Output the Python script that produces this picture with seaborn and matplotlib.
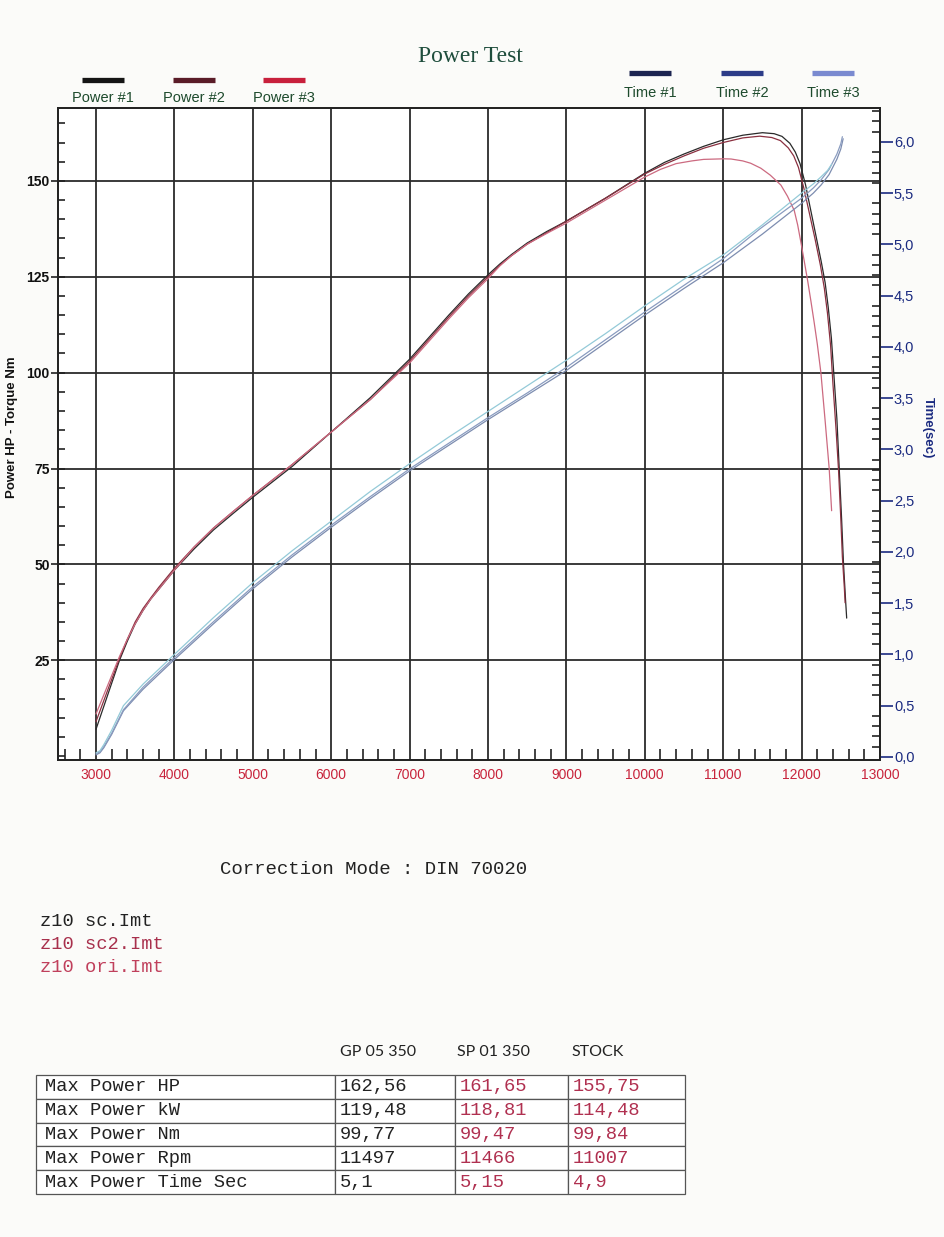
import seaborn as sns
import matplotlib.pyplot as plt
from matplotlib.lines import Line2D
from matplotlib.ticker import MultipleLocator, FuncFormatter

# ---- dyno readings (rpm / HP) ----
rpm_p1 = [3000, 3100, 3200, 3300, 3400, 3500, 3600, 3700, 3800, 3900, 4000, 4250, 4500, 4750, 5000,
          5500, 6000, 6500, 7000, 7500, 7750, 8000, 8150, 8300, 8500, 8750, 9000, 9500, 10000, 10250,
          10500, 10750, 11000, 11250, 11500, 11650, 11750, 11850, 11920, 11980, 12050, 12120, 12180,
          12250, 12300, 12340, 12380, 12410, 12450, 12480, 12510, 12535, 12560, 12575]
power_p1 = [7, 13, 19, 25, 30, 34.5, 38, 41, 43.5, 46, 48.5, 54, 59, 63.3, 67.5,
            75.5, 84.5, 93.5, 103.5, 115, 120.5, 125.5, 128.3, 130.8, 133.8, 136.8, 139.5, 145.5, 152, 154.8,
            157, 159, 160.7, 161.9, 162.56, 162.3, 161.6, 159.8, 157.5, 154.5, 149, 142, 136,
            129, 123.5, 117, 109, 100, 88, 75, 62, 50, 41, 36]

rpm_p2 = [3000, 3100, 3200, 3300, 3400, 3500, 3600, 3700, 3800, 3900, 4000, 4250, 4500, 4750, 5000,
          5500, 6000, 6500, 7000, 7500, 7750, 8000, 8150, 8300, 8500, 8750, 9000, 9500, 10000, 10250,
          10500, 10750, 11000, 11250, 11466, 11620, 11730, 11830, 11900, 11960, 12030, 12100, 12170,
          12240, 12290, 12330, 12370, 12400, 12440, 12470, 12500, 12520, 12545, 12555]
power_p2 = [9, 14.5, 20, 25.5, 30.5, 35, 38.5, 41.3, 44, 46.5, 49, 54.5, 59.5, 63.8, 68,
            76, 84.5, 93, 103, 114.5, 120, 125, 128, 130.5, 133.5, 136.5, 139.5, 145.5, 151.8, 154.3,
            156.5, 158.5, 160, 161.2, 161.65, 161.3, 160.5, 158.6, 156.5, 153.5, 148, 141.5, 135,
            128, 122, 115.5, 107, 97, 85, 75, 62, 52, 44, 40]

rpm_p3 = [3000, 3100, 3200, 3300, 3400, 3500, 3600, 3700, 3800, 3900, 4000, 4250, 4500, 4750, 5000,
          5500, 6000, 6500, 7000, 7500, 7750, 8000, 8150, 8300, 8500, 8750, 9000, 9500, 10000, 10200,
          10400, 10600, 10750, 11007, 11100, 11250, 11350, 11480, 11600, 11736, 11820, 11906, 11950,
          11991, 12030, 12077, 12120, 12161, 12200, 12246, 12300, 12352, 12383]
power_p3 = [11, 16, 21, 26, 30.5, 34.5, 38, 41, 43.5, 46, 48.5, 54.5, 59.5, 63.8, 68,
            76, 84.5, 93, 102.5, 114, 119.5, 124.5, 127.8, 130.5, 133.5, 136.3, 139, 145, 151, 153,
            154.5, 155.2, 155.6, 155.75, 155.7, 155.2, 154.6, 153.3, 151.5, 148.9, 146, 142.3, 138.5,
            134, 129.5, 124, 118.5, 113, 107.5, 100, 87.5, 75, 64]

# ---- elapsed time (sec) ----
rpm_t1 = [3000, 3050, 3100, 3200, 3350, 3600, 4000, 4500, 5000, 5500, 6000, 6500, 7000, 7500, 8000,
          8500, 9000, 9500, 10000, 10500, 11000, 11500, 12000, 12150, 12250, 12350, 12450, 12500, 12530]
time_t1 = [0.02, 0.04, 0.09, 0.22, 0.45, 0.66, 0.95, 1.30, 1.64, 1.95, 2.24, 2.52, 2.79, 3.04, 3.29,
           3.53, 3.77, 4.04, 4.31, 4.57, 4.82, 5.10, 5.40, 5.50, 5.58, 5.68, 5.83, 5.93, 6.03]
rpm_t2 = [3000, 3050, 3100, 3200, 3350, 3600, 4000, 4500, 5000, 5500, 6000, 6500, 7000, 7500, 8000,
          8500, 9000, 9500, 10000, 10500, 11000, 11466, 12000, 12150, 12250, 12350, 12450, 12500, 12520]
time_t2 = [0.03, 0.05, 0.10, 0.23, 0.46, 0.68, 0.97, 1.32, 1.66, 1.97, 2.26, 2.54, 2.81, 3.06, 3.31,
           3.55, 3.80, 4.07, 4.34, 4.60, 4.86, 5.15, 5.45, 5.55, 5.63, 5.73, 5.88, 5.98, 6.05]
rpm_t3 = [3000, 3050, 3100, 3200, 3350, 3600, 4000, 4500, 5000, 5500, 6000, 6500, 7000, 7500, 8000,
          8500, 9000, 9500, 10000, 10500, 11007, 11500, 12000, 12150, 12250, 12330, 12383]
time_t3 = [0.04, 0.06, 0.12, 0.26, 0.50, 0.71, 1.00, 1.36, 1.70, 2.01, 2.30, 2.59, 2.86, 3.12, 3.37,
           3.62, 3.87, 4.13, 4.40, 4.66, 4.90, 5.19, 5.50, 5.59, 5.66, 5.72, 5.78]

power_labels = ["Power #1", "Power #2", "Power #3"]
time_labels = ["Time #1", "Time #2", "Time #3"]

files = ["z10 sc.Imt", "z10 sc2.Imt", "z10 ori.Imt"]
run_names = ["GP 05 350", "SP 01 350", "STOCK"]
row_names = ["Max Power HP", "Max Power kW", "Max Power Nm", "Max Power Rpm", "Max Power Time Sec"]
gp05_vals = ["162,56", "119,48", "99,77", "11497", "5,1"]
sp01_vals = ["161,65", "118,81", "99,47", "11466", "5,15"]
stock_vals = ["155,75", "114,48", "99,84", "11007", "4,9"]

# colours
power_line = ["#2a2a2a", "#8a3040", "#cc6a80"]
power_key = ["#151515", "#5a1c28", "#c8203c"]
time_line = ["#7d8db0", "#8a9cc0", "#94cad8"]
time_key = ["#1c2450", "#2c3c88", "#7a8ad0"]
file_cols = ["#222222", "#a8304c", "#c0405c"]

sns.set_theme(style="white")
plt.rcParams["font.family"] = ["Liberation Sans", "DejaVu Sans"]

fig = plt.figure(figsize=(9.44, 12.37), dpi=100)
fig.patch.set_facecolor("#fbfbf9")

ax = fig.add_axes([0.0614, 0.3856, 0.8708, 0.5271])
ax.set_facecolor("white")
ax2 = ax.twinx()

for x, y, c in zip([rpm_p1, rpm_p2, rpm_p3], [power_p1, power_p2, power_p3], power_line):
    sns.lineplot(x=x, y=y, ax=ax, color=c, linewidth=0.9)
for x, y, c in zip([rpm_t1, rpm_t2, rpm_t3], [time_t1, time_t2, time_t3], time_line):
    sns.lineplot(x=x, y=y, ax=ax2, color=c, linewidth=0.9)

ax.set_xlim(2515, 13000)
ax.set_ylim(-1, 169)
ax2.set_ylim(-0.03, 6.33)

ax.set_xticks(range(3000, 13001, 1000))
ax.xaxis.set_minor_locator(MultipleLocator(200))
ax.set_yticks(range(25, 151, 25))
ax.yaxis.set_minor_locator(MultipleLocator(5))
ax2.set_yticks([i * 0.5 for i in range(13)])
ax2.yaxis.set_minor_locator(MultipleLocator(0.1))
ax2.yaxis.set_major_formatter(FuncFormatter(lambda v, p: f"{v:.1f}".replace(".", ",")))

ax.grid(True, which="major", color="#2b2b2b", linewidth=1.3)
ax2.grid(False)
ax.set_axisbelow(True)

for a in (ax, ax2):
    for s in a.spines.values():
        s.set_color("#222222")
        s.set_linewidth(1.3)

ax.tick_params(axis="x", which="major", direction="inout", length=9, width=1.2, color="#222",
               labelsize=10, labelcolor="#c8243c", pad=1)
ax.tick_params(axis="x", which="minor", direction="in", length=8, width=1.2, color="#222", bottom=True)
ax.tick_params(axis="y", which="major", direction="inout", length=10, width=1.2, color="#222",
               labelsize=10, labelcolor="#111", pad=1, right=False)
ax.tick_params(axis="y", which="minor", direction="in", length=5, width=1.2, color="#222", left=True, right=False)
for t in ax.get_yticklabels():
    t.set_fontweight("bold")

ax2.tick_params(axis="y", which="major", direction="out", length=9, width=1.2, color="#1a2a80",
                labelsize=10.5, labelcolor="#1a2a80", pad=1, left=False)
ax2.tick_params(axis="y", which="minor", direction="in", length=6, width=1.2, color="#222", right=True, left=False)

ax.set_xlabel("")
ax.set_ylabel("Power HP - Torque Nm", fontsize=9.5, fontweight="bold", color="#111")
ax.yaxis.set_label_coords(-0.049, 0.51)
ax2.set_ylabel("Time(sec)", fontsize=9.5, fontweight="bold", color="#1a2a80", rotation=270, va="center")
ax2.yaxis.set_label_coords(1.058, 0.51)

# title and key
fig.text(0.498, 0.954, "Power Test", ha="center", va="center", fontsize=17,
         family=["Liberation Serif", "DejaVu Serif"], color="#1e4d3c")

key_power_x = [103, 194, 284]
key_time_x = [650, 742, 833]
for xs, y_bar, y_lab, cols, labs in [(key_power_x, 80, 98, power_key, power_labels),
                                       (key_time_x, 73, 93, time_key, time_labels)]:
    for xc, c, lab in zip(xs, cols, labs):
        fig.add_artist(Line2D([(xc - 21) / 944, (xc + 21) / 944], [1 - y_bar / 1237] * 2,
                              transform=fig.transFigure, color=c, linewidth=3.8, solid_capstyle="butt"))
        fig.text(xc / 944, 1 - y_lab / 1237, lab, ha="center", va="center", fontsize=10.5, color="#1d4a2c")

# notes under the chart
mono = ["Liberation Mono", "DejaVu Sans Mono"]
fig.text(220 / 944, 1 - 869 / 1237, "Correction Mode : DIN 70020", ha="left", va="center",
         fontsize=13.7, family=mono, color="#222")
for i, (f, c) in enumerate(zip(files, file_cols)):
    fig.text(40 / 944, 1 - (922 + 22.5 * i) / 1237, f, ha="left", va="center", fontsize=13.5, family=mono, color=c)

# summary table
tab = fig.add_axes([36 / 944, 1 - 1194 / 1237, 649 / 944, 119 / 1237])
tab.axis("off")
cells = [[n, a, b, c] for n, a, b, c in zip(row_names, gp05_vals, sp01_vals, stock_vals)]
widths = [299 / 649, 120 / 649, 113 / 649, 117 / 649]
tbl = tab.table(cellText=cells, colWidths=widths, bbox=[0, 0, 1, 1], cellLoc="left")
tbl.auto_set_font_size(False)
for (r, c), cell in tbl.get_celld().items():
    cell.set_linewidth(0.9)
    cell.set_edgecolor("#555555")
    cell.set_facecolor("white")
    cell.PAD = 0.03 if c == 0 else 0.04
    txt = cell.get_text()
    txt.set_fontsize(13.5)
    txt.set_fontfamily(mono)
    txt.set_color("#222" if c < 2 else "#b03050")
for xh, name in zip([340, 457, 571], run_names):
    tab.text((xh - 36) / 649, (1194 - 1052) / 119, name, transform=tab.transAxes, ha="left", va="center",
             fontsize=11.5, family=["Lato", "DejaVu Sans"], color="#222")

fig.savefig("out.png", dpi=100, facecolor=fig.get_facecolor())
